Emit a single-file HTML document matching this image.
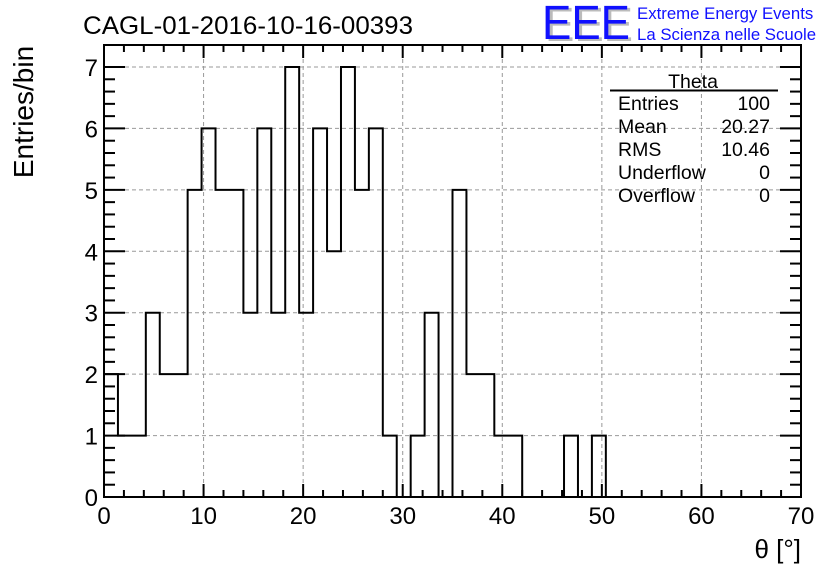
<!DOCTYPE html>
<html><head><meta charset="utf-8"><style>
html,body{margin:0;padding:0;background:#fff;}
svg{display:block;font-family:"Liberation Sans",Arial,sans-serif;}
</style></head><body>
<svg id="c" width="836" height="572" viewBox="0 0 836 572">
<rect x="0" y="0" width="836" height="572" fill="#fff"/>
<g id="grid"></g>
<g id="ticks"></g>
<g id="labels"></g>
<path id="hist" fill="none" stroke="#000" stroke-width="2"/>
<rect x="104" y="45" width="697" height="452" fill="none" stroke="#000" stroke-width="2"/>
<text x="83" y="34" font-size="25" textLength="330" lengthAdjust="spacingAndGlyphs">CAGL-01-2016-10-16-00393</text>
<g>
<text x="545" y="41" font-size="48" fill="#bbb" textLength="88" lengthAdjust="spacingAndGlyphs">EEE</text>
<text x="542" y="39" font-size="48" fill="#1010ff" textLength="88" lengthAdjust="spacingAndGlyphs">EEE</text>
<text x="637" y="19" font-size="16.8" fill="#1010ff">Extreme Energy Events</text>
<text x="637" y="40" font-size="16.8" fill="#1010ff">La Scienza nelle Scuole</text>
</g>
<g font-size="19.5">
<text x="693" y="88" text-anchor="middle">Theta</text>
<line x1="610" y1="90.5" x2="778" y2="90.5" stroke="#000" stroke-width="2"/>
<text x="618" y="110">Entries</text><text x="770" y="110" text-anchor="end">100</text>
<text x="618" y="133">Mean</text><text x="770" y="133" text-anchor="end">20.27</text>
<text x="618" y="156">RMS</text><text x="770" y="156" text-anchor="end">10.46</text>
<text x="618" y="179">Underflow</text><text x="770" y="179" text-anchor="end">0</text>
<text x="618" y="202">Overflow</text><text x="770" y="202" text-anchor="end">0</text>
</g>
<text transform="translate(33,112) rotate(-90)" text-anchor="middle" font-size="28">Entries/bin</text>
<text x="801" y="558" text-anchor="end" font-size="26">θ [°]</text>
</svg>
<script>
const counts = [2,1,1,3,2,2,5,6,5,5,3,6,3,7,3,6,4,7,5,6,1,0,1,3,0,5,2,2,1,1,0,0,0,1,0,1,0,0,0,0,0,0,0,0,0,0,0,0,0,0];
const xTicks = [0,10,20,30,40,50,60,70];
const yTicks = [0,1,2,3,4,5,6,7];
const binWidth = 1.4;
const X0=104,X1=801,Y0=497,Y7=67;
const sx=v=>X0+(X1-X0)*v/70;
const sy=v=>Y0-(Y0-Y7)*v/7;
const NS='http://www.w3.org/2000/svg';
function mk(tag,parent,attrs){const e=document.createElementNS(NS,tag);for(const k in attrs)e.setAttribute(k,attrs[k]);parent.appendChild(e);return e;}
const grid=document.getElementById('grid'),ticks=document.getElementById('ticks'),labels=document.getElementById('labels');
xTicks.forEach(v=>{
  const x=sx(v);
  if(v>0&&v<70){const g=mk('line',grid,{x1:x,y1:45,x2:x,y2:Y0,stroke:'#999','stroke-dasharray':'4,3'});
  
  }
  const t=mk('text',labels,{x:x,y:524,'text-anchor':'middle','font-size':24});
  
  
  t.textContent=v;
});
for(let i=0;i<=70;i+=2){const x=sx(i);const L=(i%10===0)?13:7;
  mk('line',ticks,{x1:x,y1:Y0,x2:x,y2:Y0-L,stroke:'#000','stroke-width':2});
  mk('line',ticks,{x1:x,y1:45,x2:x,y2:45+L,stroke:'#000','stroke-width':2});}
yTicks.forEach(v=>{
  const y=sy(v);
  if(v>0){const g=mk('line',grid,{x1:X0,y1:y,x2:X1,y2:y,stroke:'#999','stroke-dasharray':'4,3'});
  
  }
  const t=mk('text',labels,{x:98,y:y+9,'text-anchor':'end','font-size':24});
  
  
  t.textContent=v;
});
for(let i=0;i<=7.2;i+=0.2){const y=sy(i);if(y<45)break;const L=(Math.abs(i-Math.round(i))<1e-6)?21:11;
  mk('line',ticks,{x1:X0,y1:y,x2:X0+L,y2:y,stroke:'#000','stroke-width':2});
  mk('line',ticks,{x1:X1,y1:y,x2:X1-L,y2:y,stroke:'#000','stroke-width':2});}
let d='M'+sx(0)+','+sy(0);
counts.forEach((c,i)=>{d+=' L'+sx(i*binWidth)+','+sy(c)+' L'+sx((i+1)*binWidth)+','+sy(c);});
d+=' L'+sx(counts.length*binWidth)+','+sy(0);
document.getElementById('hist').setAttribute('d',d);
</script>
</body></html>
